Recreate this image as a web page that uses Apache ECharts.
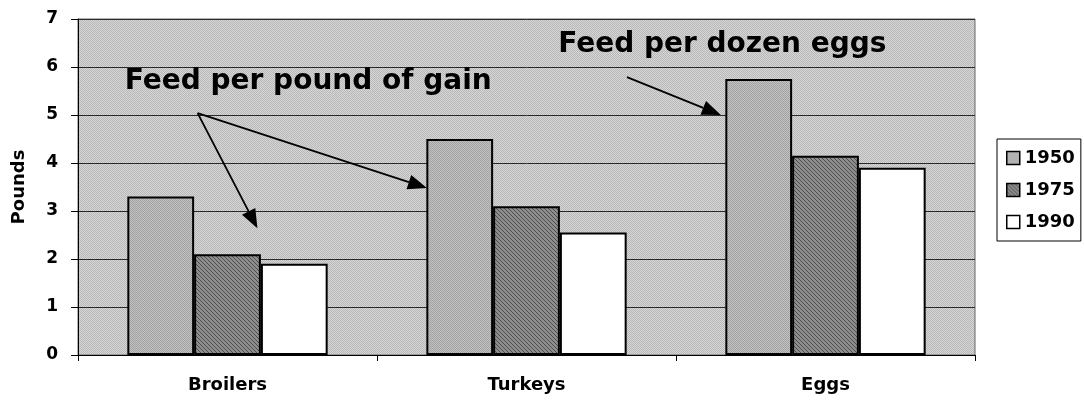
<!DOCTYPE html>
<html lang="en">

<head>
    <meta charset="utf-8">
    <title>Feed per unit of output</title>
    <!-- load echarts -->
    <script src="https://cdn.jsdelivr.net/npm/echarts@6.0.0/dist/echarts.min.js"></script>
    <style>
        html, body { margin: 0; padding: 0; background: #fff; }
        #main { width: 1084px; height: 403px; }
    </style>
</head>

<body>
    <div id="main"></div>
    <script type="text/javascript">
        // chart data
        var categories = ['Broilers', 'Turkeys', 'Eggs'];
        var years = ['1950', '1975', '1990'];
        var feed1950 = [3.3, 4.5, 5.75];
        var feed1975 = [2.1, 3.1, 4.15];
        var feed1990 = [1.9, 2.55, 3.9];
        var yMin = 0, yMax = 7, yStep = 1;

        // annotation text + arrows, in data units (x: 0..3 across the categories, y: pounds)
        var noteGain = { text: 'Feed per pound of gain', at: [0.77, 5.69] };
        var noteEggs = { text: 'Feed per dozen eggs', at: [2.155, 6.46] };
        var gainFrom = [0.40, 5.04];
        var gainTips = [[1.167, 3.48], [0.60, 2.64]];
        var eggsFrom = [1.836, 5.79];
        var eggsTip = [2.15, 5.0];

        var FONT = '"DejaVu Sans", "Liberation Sans", Arial, sans-serif';

        // small fixed dither patterns to mimic the printed screens
        function makePattern(rows, c0, c1) {
            var cv = document.createElement('canvas');
            cv.width = rows[0].length;
            cv.height = rows.length;
            var ctx = cv.getContext('2d');
            for (var y = 0; y < rows.length; y++) {
                for (var x = 0; x < rows[y].length; x++) {
                    ctx.fillStyle = rows[y][x] === '1' ? c1 : c0;
                    ctx.fillRect(x, y, 1, 1);
                }
            }
            return { image: cv, repeat: 'repeat' };
        }

        var checker = ['10', '01'];
        var bgFill = makePattern(checker, '#d6d6d6', '#b8b8b8');
        var fill1950 = makePattern(checker, '#c2c2c2', '#a2a2a2');
        var fill1975 = makePattern(['1000', '0100', '0010', '0001'], '#8e8e8e', '#4c4c4c');

        var myChart = echarts.init(document.getElementById('main'));

        function barSeries(name, values, fill) {
            return {
                name: name,
                type: 'bar',
                data: values,
                barGap: '0%',
                barCategoryGap: '33%',
                itemStyle: { color: fill, borderColor: '#000', borderWidth: 2 },
                emphasis: { disabled: true }
            };
        }

        var option = {
            animation: false,
            backgroundColor: '#fff',
            textStyle: { fontFamily: FONT },
            grid: {
                left: 78, right: 109, top: 19, bottom: 48,
                containLabel: false,
                outerBoundsMode: 'none',
                show: true,
                backgroundColor: bgFill,
                borderColor: '#666',
                borderWidth: 1
            },
            legend: {
                orient: 'vertical',
                left: 997,
                top: 139,
                data: years,
                icon: 'rect',
                itemWidth: 13,
                itemHeight: 13,
                itemGap: 14,
                padding: [10, 6, 10, 9],
                borderColor: '#000',
                borderWidth: 1,
                textStyle: { fontFamily: FONT, fontWeight: 'bold', fontSize: 18, color: '#000' },
                itemStyle: { borderColor: '#000', borderWidth: 1.5 }
            },
            xAxis: [{
                type: 'category',
                data: categories,
                axisLine: { lineStyle: { color: '#000', width: 1 } },
                axisTick: { show: true, length: 6, lineStyle: { color: '#000' } },
                axisLabel: { margin: 21, fontFamily: FONT, fontWeight: 'bold', fontSize: 18, color: '#000' },
                splitLine: { show: false }
            }, {
                // hidden helper axis for placing the notes
                type: 'value', min: 0, max: 3, show: false
            }],
            yAxis: {
                type: 'value',
                min: yMin,
                max: yMax,
                interval: yStep,
                name: 'Pounds',
                nameLocation: 'middle',
                nameGap: 50,
                nameTextStyle: { fontFamily: FONT, fontWeight: 'bold', fontSize: 18, color: '#000' },
                axisLine: { show: true, lineStyle: { color: '#000', width: 1 } },
                axisTick: { show: true, length: 7, lineStyle: { color: '#000' } },
                axisLabel: { margin: 20, fontFamily: FONT, fontWeight: 'bold', fontSize: 17, color: '#000' },
                splitLine: { lineStyle: { color: '#2a2a2a', width: 1 } }
            },
            series: [
                barSeries(years[0], feed1950, fill1950),
                barSeries(years[1], feed1975, fill1975),
                barSeries(years[2], feed1990, '#fff')
            ]
        };

        myChart.setOption(option);

        // arrows + note text on top of the bars
        function toPx(p) {
            return myChart.convertToPixel({ xAxisIndex: 1, yAxisIndex: 0 }, p);
        }

        function arrow(from, to) {
            var a = toPx(from), b = toPx(to);
            var dx = b[0] - a[0], dy = b[1] - a[1];
            var len = Math.sqrt(dx * dx + dy * dy);
            var ux = dx / len, uy = dy / len;
            var hl = 19, hw = 7.5;
            var bx = b[0] - ux * hl, by = b[1] - uy * hl;
            return [{
                type: 'line', z: 100,
                shape: { x1: a[0], y1: a[1], x2: bx, y2: by },
                style: { stroke: '#000', lineWidth: 1.8 }
            }, {
                type: 'polygon', z: 100,
                shape: { points: [b, [bx - uy * hw, by + ux * hw], [bx + uy * hw, by - ux * hw]] },
                style: { fill: '#000' }
            }];
        }

        function note(n) {
            var p = toPx(n.at);
            return {
                type: 'text', z: 100, x: p[0], y: p[1],
                style: {
                    text: n.text, fill: '#000',
                    font: 'bold 28px ' + FONT,
                    align: 'center', verticalAlign: 'middle',
                    textAlign: 'center', textVerticalAlign: 'middle'
                }
            };
        }

        var elements = [note(noteGain), note(noteEggs)];
        gainTips.forEach(function (t) {
            elements = elements.concat(arrow(gainFrom, t));
        });
        elements = elements.concat(arrow(eggsFrom, eggsTip));

        myChart.setOption({ graphic: elements });
    </script>
</body>

</html>
